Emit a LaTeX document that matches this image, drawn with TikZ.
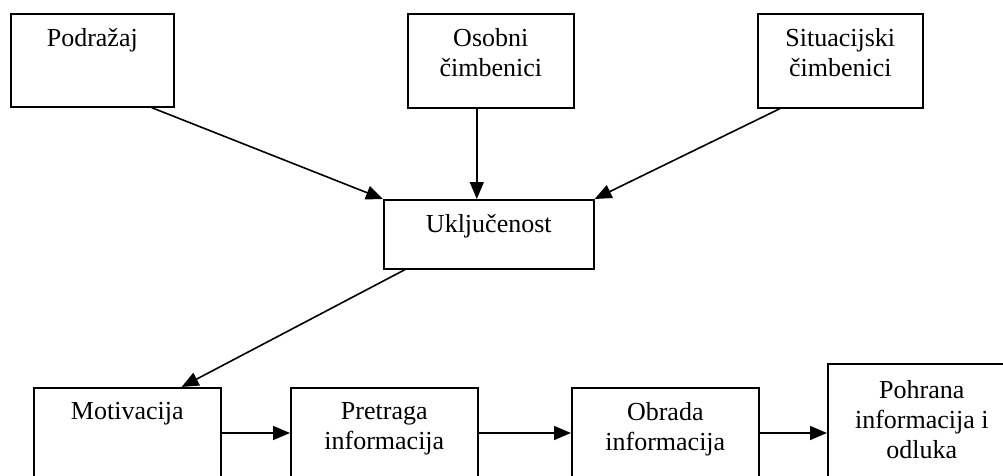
\documentclass[tikz,border=0pt]{standalone}
\usepackage{fontspec}
\setmainfont{Liberation Serif}
\usepackage{tikz}
\usetikzlibrary{arrows.meta}

\tikzset{
    box/.style = {draw, line width = 1.6pt, anchor = north west, inner sep = 0pt},
    boxtext/.style = {anchor = north, yshift = -15pt, inner sep = 0pt, align = center,
        font = \fontsize{26}{30}\selectfont},
    arr/.style = {-{Triangle[length = 17pt, width = 14pt]}, line width = 1.6pt}
}

\begin{document}
\begin{tikzpicture}[x = 1pt, y = -1pt]
        \useasboundingbox (0, 0) rectangle (1003, 476);
        \clip (0, 0) rectangle (1003, 476);

        % top row
        \node[box, minimum width = 163pt, minimum height = 93pt,
            label = {[boxtext]north:Podražaj}] (podrazaj) at (10, 13) {};
        \node[box, minimum width = 166pt, minimum height = 94pt,
            label = {[boxtext]north:Osobni\\čimbenici}] (osobni) at (407, 13) {};
        \node[box, minimum width = 165pt, minimum height = 94pt,
            label = {[boxtext]north:Situacijski\\čimbenici}] (situacijski) at (757, 13) {};

        \node[box, minimum width = 210pt, minimum height = 69pt,
            label = {[boxtext]north:Uključenost}] (ukljucenost) at (383, 199) {};

        % bottom row
        \node[box, minimum width = 187pt, minimum height = 110pt,
            label = {[boxtext]north:Motivacija}] (motivacija) at (33, 387) {};
        \node[box, minimum width = 187pt, minimum height = 110pt,
            label = {[boxtext]north:Pretraga\\informacija}] (pretraga) at (290, 387) {};
        \node[box, minimum width = 187pt, minimum height = 110pt,
            label = {[boxtext]north:Obrada\\informacija}] (obrada) at (571, 387) {};
        \node[box, minimum width = 188pt, minimum height = 134pt,
            label = {[boxtext, yshift = -2pt]north:Pohrana\\informacija i\\odluka}] (pohrana) at (827, 363) {};

        \draw[arr] ([xshift = -23pt]podrazaj.south east) -- (ukljucenost.north west);
        \draw[arr] ([xshift = -14pt]osobni.south) -- ([xshift = -12pt]ukljucenost.north);
        \draw[arr] ([xshift = 23pt]situacijski.south west) -- (ukljucenost.north east);
        \draw[arr] ([xshift = 22pt]ukljucenost.south west) -- ([xshift = -40pt]motivacija.north east);

        \draw[arr] ([yshift = -46pt]motivacija.north east) -- ([yshift = -46pt]pretraga.north west);
        \draw[arr] ([yshift = -46pt]pretraga.north east) -- ([yshift = -46pt]obrada.north west);
        \draw[arr] ([yshift = -46pt]obrada.north east) -- ([yshift = -70pt]pohrana.north west);
    \end{tikzpicture}
\end{document}
